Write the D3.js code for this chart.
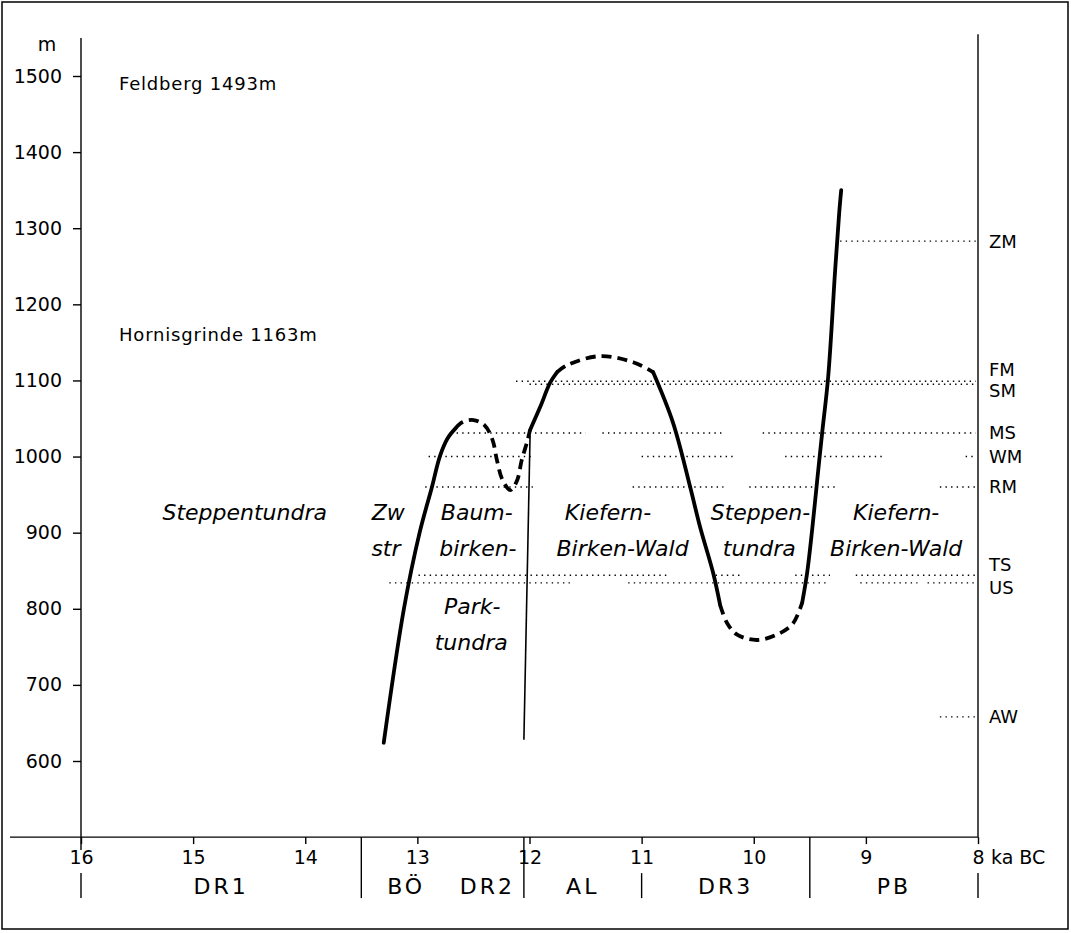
<!DOCTYPE html>
<html>
<head>
<meta charset="utf-8">
<script src="https://cdn.jsdelivr.net/npm/d3@7"></script>
<style>
  body { margin: 0; background: #fff; }
  svg text { font-family: "DejaVu Sans", sans-serif; fill: #000; }
</style>
</head>
<body>
<svg id="chart" width="1071" height="933"></svg>
<script>
// ---- data (ka BC / altitude m) ----
var yTicks = [600, 700, 800, 900, 1000, 1100, 1200, 1300, 1400, 1500]
var xTicks = [16, 15, 14, 13, 12, 11, 10, 9, 8]

var periodNames = ['DR1', 'BÖ', 'DR2', 'AL', 'DR3', 'PB']
var periodFrom = [16, 13.5, 12.7, 12.05, 11, 9.5]
var periodTo = [13.5, 12.7, 12.05, 11, 9.5, 8]
var periodBounds = [16, 13.5, 12.05, 11, 9.5, 8]

var mountains = ['Feldberg 1493m', 'Hornisgrinde 1163m']
var mountainAlt = [1493, 1163]

// altitude belts and where their dotted lines run
var zoneNames = ['ZM', 'FM', 'SM', 'MS', 'WM', 'RM', 'TS', 'US', 'AW']
var zoneAlt = [1283, 1099, 1095, 1031, 1000, 960, 844, 834, 658]
var zoneRuns = [
    [[9.23, 8.02]],
    [[12.12, 8.02]],
    [[12.0, 8.02]],
    [[12.65, 11.50], [11.35, 10.28], [9.92, 8.02]],
    [[12.90, 11.98], [11.0, 10.18], [9.72, 8.85], [8.11, 8.02]],
    [[12.93, 11.97], [11.08, 10.27], [10.04, 9.25], [8.34, 8.02]],
    [[12.99, 10.76], [10.34, 10.12], [9.63, 9.32], [9.09, 8.02]],
    [[13.25, 11.64], [11.12, 9.34], [9.05, 8.54], [8.45, 8.02]],
    [[8.34, 8.02]]
]

// tree line, pieces alternate solid / dashed
var treeA = [[13.30, 624], [13.12, 800], [12.98, 900], [12.87, 960], [12.80, 1000], [12.73, 1024], [12.66, 1037]]
var treeB = [[12.66, 1037], [12.60, 1045], [12.50, 1048], [12.40, 1041], [12.33, 1022], [12.29, 995], [12.24, 969], [12.17, 956], [12.11, 969], [12.07, 995], [12.02, 1020], [11.995, 1035]]
var treeC = [[11.995, 1035], [11.905, 1065], [11.816, 1097], [11.754, 1111]]
var treeD = [[11.754, 1111], [11.665, 1120], [11.37, 1132], [11.076, 1124], [10.898, 1111]]
var treeE = [[10.898, 1111], [10.719, 1044], [10.567, 960], [10.478, 907], [10.362, 847], [10.30, 805]]
var treeF = [[10.30, 805], [10.237, 781], [10.148, 766], [9.97, 759], [9.765, 768], [9.649, 781], [9.568, 808]]
var treeG = [[9.568, 808], [9.524, 847], [9.479, 904], [9.434, 969], [9.39, 1031], [9.336, 1105], [9.274, 1245], [9.238, 1320], [9.22, 1350]]
var thinLine = [[11.995, 1028], [12.05, 628]]

// vegetation labels: text, ka, altitude of baseline
var vegText = ['Steppentundra', 'Zw', 'str', 'Baum-', 'birken-', 'Park-', 'tundra', 'Kiefern-', 'Birken-Wald', 'Steppen-', 'tundra', 'Kiefern-', 'Birken-Wald']
var vegKa = [14.54, 13.26, 13.28, 12.47, 12.46, 12.51, 12.52, 11.30, 11.17, 9.94, 9.95, 8.73, 8.73]
var vegAlt = [917, 917, 869, 917, 869, 793, 746, 917, 869, 917, 869, 917, 869]

// ---- drawing ----
var svg = d3.select('#chart')
var x = d3.scaleLinear().domain([16, 8]).range([81, 978])
var y = d3.scaleLinear().domain([600, 1500]).range([761, 76])
var baseY = y(500)

// frame
svg.append('rect').attr('x', 2).attr('y', 2).attr('width', 1066).attr('height', 927)
    .attr('fill', 'none').attr('stroke', '#000').attr('stroke-width', 1.5)

// y axis
var yAxis = d3.axisLeft(y).tickValues(yTicks).tickSize(8).tickPadding(11).tickFormat(d3.format('d'))
var gy = svg.append('g').attr('transform', 'translate(' + x(16) + ',0)').call(yAxis)
gy.select('.domain').remove()
gy.selectAll('line').attr('stroke-width', 1.4)
gy.selectAll('text').attr('font-size', 19).attr('font-family', '"DejaVu Sans", sans-serif')
svg.append('line').attr('x1', x(16)).attr('x2', x(16)).attr('y1', y(1550)).attr('y2', baseY + 13)
    .attr('stroke', '#000').attr('stroke-width', 1.4)
svg.append('text').attr('x', 47).attr('y', 51).attr('font-size', 19).attr('text-anchor', 'middle').text('m')

// right axis
svg.append('line').attr('x1', x(8)).attr('x2', x(8)).attr('y1', y(1555)).attr('y2', baseY)
    .attr('stroke', '#000').attr('stroke-width', 1.4)

// x axis
var xAxis = d3.axisBottom(x).tickValues(xTicks).tickSize(7).tickPadding(6).tickFormat(d3.format('d'))
var gx = svg.append('g').attr('transform', 'translate(0,' + baseY + ')').call(xAxis)
gx.select('.domain').remove()
gx.selectAll('line').attr('stroke-width', 1.4)
gx.selectAll('text').attr('font-size', 19).attr('font-family', '"DejaVu Sans", sans-serif')
svg.append('text').attr('x', x(8) + 13).attr('y', baseY + 27).attr('font-size', 19).text('ka BC')
svg.append('line').attr('x1', 10).attr('x2', x(8)).attr('y1', baseY).attr('y2', baseY)
    .attr('stroke', '#000').attr('stroke-width', 1.4)

// period row
svg.selectAll('.sep').data(periodBounds).enter().append('line')
    .attr('x1', d => x(d)).attr('x2', d => x(d))
    .attr('y1', d => (d % 1 ? baseY : baseY + 36)).attr('y2', baseY + 61)
    .attr('stroke', '#000').attr('stroke-width', 1.4)
svg.selectAll('.per').data(periodNames).enter().append('text')
    .attr('x', (d, i) => x((periodFrom[i] + periodTo[i]) / 2))
    .attr('y', baseY + 57).attr('text-anchor', 'middle')
    .attr('font-size', 22).attr('letter-spacing', 3).text(d => d)

// mountain labels
svg.selectAll('.mtn').data(mountains).enter().append('text')
    .attr('x', 119).attr('y', (d, i) => y(mountainAlt[i]) + 9)
    .attr('font-size', 18).attr('letter-spacing', 0.8).text(d => d)

// altitude belts
var zoneG = svg.append('g')
zoneRuns.forEach(function (runs, i) {
    runs.forEach(function (r) {
        zoneG.append('line')
            .attr('x1', x(r[0])).attr('x2', x(r[1]))
            .attr('y1', y(zoneAlt[i])).attr('y2', y(zoneAlt[i]))
            .attr('stroke', '#000').attr('stroke-width', 1.4)
            .attr('stroke-dasharray', '1.4 4.2')
    })
})
var zoneDy = { FM: -12, SM: 6, TS: -11, US: 5 }
svg.selectAll('.zl').data(zoneNames).enter().append('text')
    .attr('x', x(8) + 11)
    .attr('y', (d, i) => y(zoneAlt[i]) + (zoneDy[d] || 0))
    .attr('dy', '0.36em').attr('font-size', 18).text(d => d)

// tree line
var line = d3.line().x(d => x(d[0])).y(d => y(d[1])).curve(d3.curveCatmullRom)
var pieces = [treeA, treeB, treeC, treeD, treeE, treeF, treeG]
pieces.forEach(function (p, i) {
    svg.append('path').attr('d', line(p))
        .attr('fill', 'none').attr('stroke', '#000').attr('stroke-width', 3.8)
        .attr('stroke-linecap', i % 2 ? 'butt' : 'round')
        .attr('stroke-dasharray', i % 2 ? '10 6' : null)
})
svg.append('path').attr('d', line(thinLine))
    .attr('fill', 'none').attr('stroke', '#000').attr('stroke-width', 1.6)

// vegetation labels
svg.selectAll('.veg').data(vegText).enter().append('text')
    .attr('x', (d, i) => x(vegKa[i])).attr('y', (d, i) => y(vegAlt[i]))
    .attr('text-anchor', 'middle').attr('font-size', 22).attr('font-style', 'italic')
    .text(d => d)
</script>
</body>
</html>
